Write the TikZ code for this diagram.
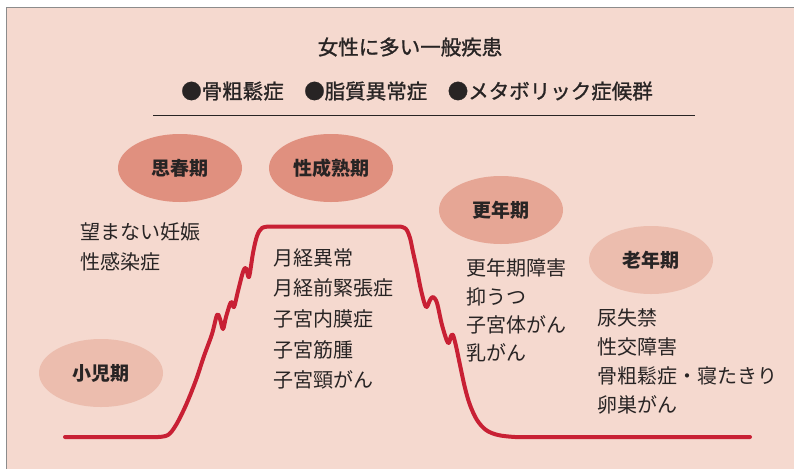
\documentclass[tikz,border=0pt]{standalone}
\usepackage{fontspec}
\newfontfamily\jp{Noto Sans CJK JP}
\newfontfamily\jpm[FakeBold=1.2]{Noto Sans CJK JP}
\definecolor{bgpink}{RGB}{245,217,207}
\definecolor{ellA}{RGB}{224,144,127}
\definecolor{ellB}{RGB}{230,166,149}
\definecolor{ellC}{RGB}{236,189,174}
\definecolor{curvered}{RGB}{200,32,52}
\definecolor{txt}{RGB}{40,36,36}
\definecolor{framegray}{RGB}{140,140,140}
\tikzset{
  period/.style={ellipse, minimum width=124pt, minimum height=68pt, inner sep=0pt, font=\jp\bfseries\fontsize{19}{19}\selectfont, text=txt},
  listtext/.style={anchor=west, inner sep=0pt, font=\jp\fontsize{20}{20}\selectfont, text=txt},
  headtext/.style={inner sep=0pt, font=\jpm\fontsize{20.5}{20.5}\selectfont, text=txt},
}
\usetikzlibrary{shapes.geometric}
\begin{document}
\begin{tikzpicture}[x=1pt,y=-1pt]
\useasboundingbox (0,0) rectangle (794,469);
\fill[white] (0,0) rectangle (794,469);
\fill[bgpink] (6,7) rectangle (794,469);
\draw[framegray, line width=1pt] (6,469) -- (6,7) -- (794,7);

\node[headtext] (title) at (410,47) {女性に多い一般疾患};
\node[headtext] (sub) at (417,91) {●骨粗鬆症　●脂質異常症　●メタボリック症候群};
\draw[txt, line width=0.9pt] (153,115) -- (695,115);

\node[period, fill=ellA] (shishunki) at (180,168) {思春期};
\node[period, fill=ellA] (seijuku) at (331,168) {性成熟期};
\node[period, fill=ellB] (konenki) at (501,210) {更年期};
\node[period, fill=ellC] (ronenki) at (651,260) {老年期};
\node[period, fill=ellC] (shoni) at (101,373) {小児期};

\node[listtext] (a1) at (80,232) {望まない妊娠};
\node[listtext] (a2) at (80,262) {性感染症};

\node[listtext] (b1) at (273,258) {月経異常};
\node[listtext] (b2) at (273,288) {月経前緊張症};
\node[listtext] (b3) at (273,319) {子宮内膜症};
\node[listtext] (b4) at (273,350) {子宮筋腫};
\node[listtext] (b5) at (273,380) {子宮頸がん};

\node[listtext] (c1) at (466,268) {更年期障害};
\node[listtext] (c2) at (466,297) {抑うつ};
\node[listtext] (c3) at (466,325) {子宮体がん};
\node[listtext] (c4) at (466,353) {乳がん};

\node[listtext] (d1) at (597,318) {尿失禁};
\node[listtext] (d2) at (597,347) {性交障害};
\node[listtext] (d3) at (597,376) {骨粗鬆症・寝たきり};
\node[listtext] (d4) at (597,405) {卵巣がん};

\draw[curvered, line width=4pt, line cap=round, line join=round]
  (65,437) -- (158,437)
  plot[smooth, tension=0.55] coordinates {
    (158,437) (168,435) (176,425) (186,405) (196,380) (204,356) (212,334)
    (217,315) (220,319) (223,329) (226,317) (231,302) (234,307)
    (238,291) (243,272) (246,268) (249,277) (253,253) (257,236)
    (262,228) (270,226.5)}
  -- (400,226.5)
  plot[smooth, tension=0.55] coordinates {
    (400,226.5) (406,229) (410,238) (413,252) (417,270) (421,290)
    (426,307) (430,300) (433,297) (437,303) (442,325) (448,343)
    (451,336) (453,335) (456,346) (460,365) (465,388) (470,405)
    (477,420) (486,430) (498,435) (515,437) (530,437)}
  -- (750,437);
\end{tikzpicture}
\end{document}
